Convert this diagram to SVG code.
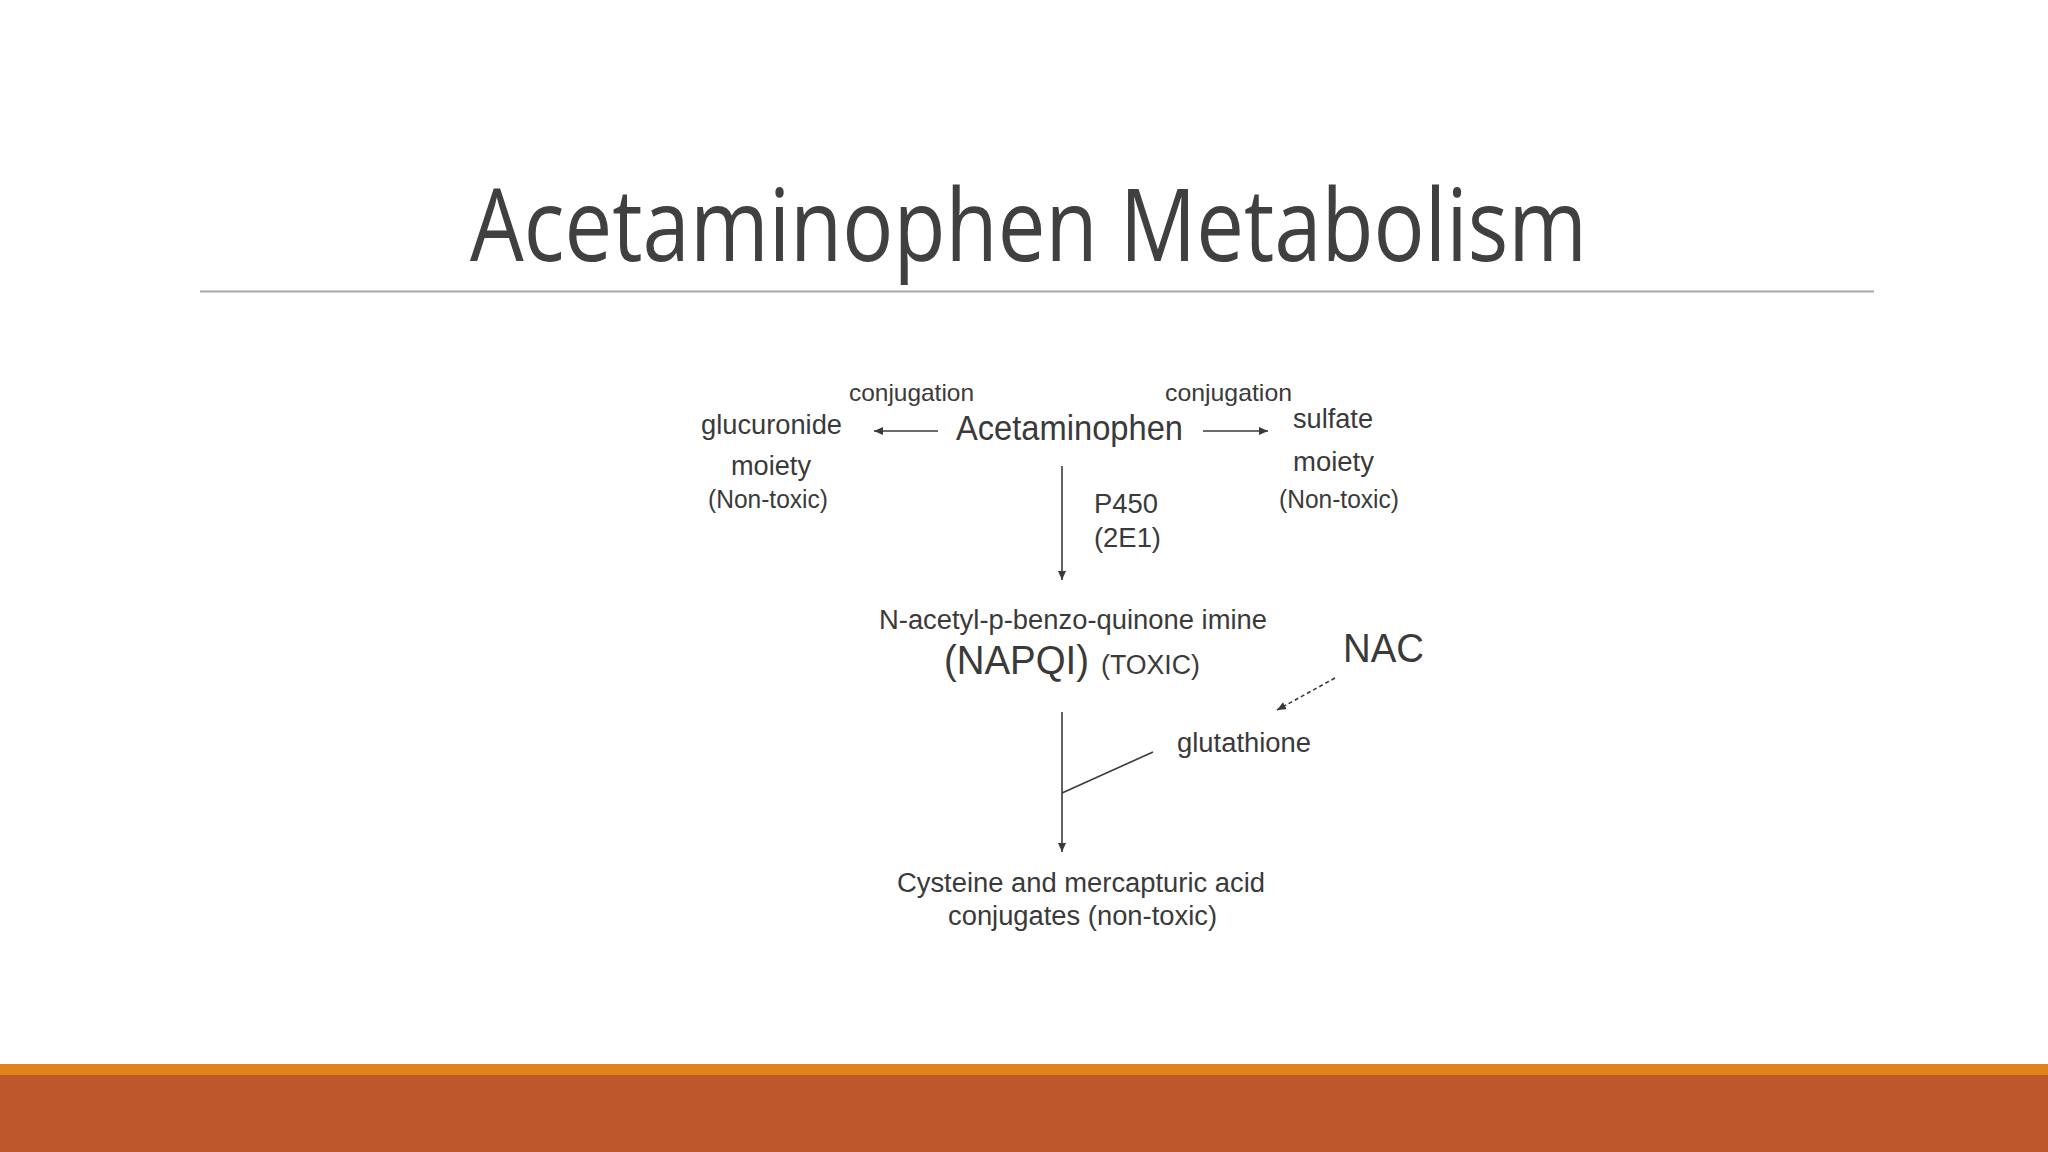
<svg xmlns="http://www.w3.org/2000/svg" width="2048" height="1152" viewBox="0 0 2048 1152">
<style>
.t{font-family:"Liberation Sans",Arial,sans-serif;fill:#3a3a3a;font-size:27px}
.s24{font-size:24px}
.s25{font-size:25px}
.s35{font-size:35px}
.s41{font-size:41px}
.c{stroke:#3a3a3a;stroke-width:1.6;fill:none}
.title{font-family:"Open Sans","Noto Sans",sans-serif;fill:#404040;font-size:100px}
</style>
<defs>
<marker id="ah" markerWidth="10" markerHeight="8" refX="9" refY="4" orient="auto" markerUnits="userSpaceOnUse">
<path d="M0,0 L9,4 L0,8 Z" fill="#3a3a3a"/>
</marker>
</defs>
<rect width="2048" height="1152" fill="#ffffff"/>
<g id="title">
<text class="title" x="470" y="261" textLength="1117" lengthAdjust="spacingAndGlyphs">Acetaminophen Metabolism</text>
<line x1="200" y1="291.5" x2="1874" y2="291.5" stroke="#a8a8a8" stroke-width="2"/>
</g>
<g id="footer">
<rect x="0" y="1064" width="2048" height="11" fill="#e0831a"/>
<rect x="0" y="1075" width="2048" height="77" fill="#be582c"/>
</g>
<g id="connectors">
<line class="c" x1="938" y1="431" x2="874" y2="431" marker-end="url(#ah)"/>
<line class="c" x1="1203" y1="431" x2="1268" y2="431" marker-end="url(#ah)"/>
<line class="c" x1="1062" y1="466" x2="1062" y2="580" marker-end="url(#ah)"/>
<line class="c" x1="1062" y1="712" x2="1062" y2="852" marker-end="url(#ah)"/>
<line class="c" x1="1153" y1="752" x2="1062" y2="793"/>
<line class="c" x1="1335" y1="678" x2="1277" y2="710" stroke-dasharray="4,3" marker-end="url(#ah)"/>
<text class="t s24" x="849" y="401" textLength="125" lengthAdjust="spacingAndGlyphs">conjugation</text>
<text class="t s24" x="1165" y="401" textLength="127" lengthAdjust="spacingAndGlyphs">conjugation</text>
<text class="t" x="1094" y="513" textLength="64" lengthAdjust="spacingAndGlyphs">P450</text>
<text class="t" x="1094" y="547" textLength="67" lengthAdjust="spacingAndGlyphs">(2E1)</text>
</g>
<g id="acetaminophen">
<text class="t s35" x="956" y="440" textLength="227" lengthAdjust="spacingAndGlyphs">Acetaminophen</text>
</g>
<g id="glucuronide">
<text class="t" x="701" y="434" textLength="141" lengthAdjust="spacingAndGlyphs">glucuronide</text>
<text class="t" x="731" y="475" textLength="80" lengthAdjust="spacingAndGlyphs">moiety</text>
<text class="t s25" x="708" y="508" textLength="120" lengthAdjust="spacingAndGlyphs">(Non-toxic)</text>
</g>
<g id="sulfate">
<text class="t" x="1293" y="428" textLength="80" lengthAdjust="spacingAndGlyphs">sulfate</text>
<text class="t" x="1293" y="471" textLength="81" lengthAdjust="spacingAndGlyphs">moiety</text>
<text class="t s25" x="1279" y="508" textLength="120" lengthAdjust="spacingAndGlyphs">(Non-toxic)</text>
</g>
<g id="napqi">
<text class="t" x="879" y="629" textLength="388" lengthAdjust="spacingAndGlyphs">N-acetyl-p-benzo-quinone imine</text>
<text class="t s41" x="944" y="674" textLength="145" lengthAdjust="spacingAndGlyphs">(NAPQI)</text>
<text class="t" x="1101" y="674" textLength="99" lengthAdjust="spacingAndGlyphs">(TOXIC)</text>
</g>
<g id="nac">
<text class="t s41" x="1343" y="662" textLength="81" lengthAdjust="spacingAndGlyphs">NAC</text>
</g>
<g id="glutathione">
<text class="t" x="1177" y="752" textLength="134" lengthAdjust="spacingAndGlyphs">glutathione</text>
</g>
<g id="conjugates">
<text class="t" x="897" y="892" textLength="368" lengthAdjust="spacingAndGlyphs">Cysteine and mercapturic acid</text>
<text class="t" x="948" y="925" textLength="269" lengthAdjust="spacingAndGlyphs">conjugates (non-toxic)</text>
</g>
</svg>
